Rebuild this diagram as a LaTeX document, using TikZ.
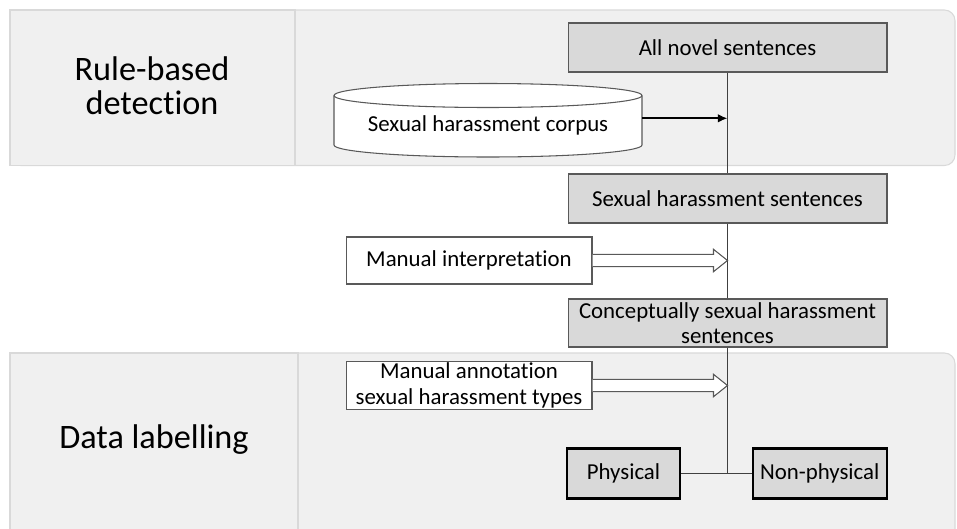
\documentclass[tikz,border=0pt]{standalone}
\usepackage{fontspec}
\setmainfont{Carlito}[Ligatures=NoCommon]
\usetikzlibrary{calc,arrows.meta}

\begin{document}
\begin{tikzpicture}[x=0.02cm,y=-0.02cm,
  band/.style={fill=gray!12,draw=gray!30,line width=0.6pt},
  stepbox/.style={draw=black!65,fill=gray!30,line width=0.6pt,inner sep=1pt,
    minimum width=6.38cm,font=\fontsize{13}{14.5}\selectfont,align=center},
  leafbox/.style={draw=black,fill=gray!30,line width=1.2pt,minimum height=1cm,
    font=\fontsize{13}{14.5}\selectfont},
  notebox/.style={draw=black!65,fill=white,line width=0.6pt,inner sep=1pt,
    minimum width=4.92cm,minimum height=0.94cm,font=\fontsize{13}{14.5}\selectfont,align=center},
  cyl/.style={draw=black!65,fill=white,line width=0.6pt},
  link/.style={draw=black!75,line width=0.6pt},
  hollow/.style={draw=black!65,fill=white,line width=0.6pt},
  title/.style={font=\fontsize{19.5}{19.5}\selectfont,align=center}]
\useasboundingbox (0,0) rectangle (957,528);
\begin{scope}
\clip (0,0) rectangle (957,528);
\draw[band,rounded corners=6pt] (10,10) rectangle (955,165.5);
\draw[band] (10,10) rectangle (295,165.5);
\draw[band,rounded corners=6pt] (10,353) rectangle (955,560);
\draw[band] (10,353) rectangle (298,560);
\end{scope}

\node[title] (rule) at (152,86) {Rule-based\\detection};
\node[title] (label) at (154,440) {Data labelling};

\draw[cyl] (334,95.5) -- (334,145) arc[start angle=180,end angle=0,x radius=154,y radius=12] -- (642,95.5);
\draw[cyl] (488,95.5) ellipse [x radius=154,y radius=12];
\node[minimum width=6.16cm,font=\fontsize{13}{14.5}\selectfont] (corpus) at (488,125) {Sexual harassment corpus};

\node[stepbox,minimum height=0.98cm] (all) at (727.5,47.5) {All novel sentences};
\node[stepbox,minimum height=0.98cm] (shs) at (727.5,198.5) {Sexual harassment sentences};
\node[stepbox,minimum height=0.96cm] (csh) at (727.5,323) {Conceptually sexual harassment\\sentences};
\node[notebox] (interp) at (469,260.5) {Manual interpretation};
\node[notebox] (annot) at (469,385.5) {Manual annotation\\sexual harassment types};
\node[leafbox,minimum width=2.26cm] (phys) at (623.5,473.5) {Physical};
\node[leafbox,minimum width=2.68cm] (nonphys) at (819.7,473.5) {Non-physical};

\coordinate (jA) at (727.5,118.3);
\coordinate (jB) at (727.5,260.5);
\coordinate (jC) at (727.5,385.5);
\coordinate (split) at (727.5,473.5);

\draw[link] (all) -- (shs);
\draw[link] (shs) -- (csh);
\draw[link] (csh) -- (split);
\draw[link] (phys) -- (nonphys);
\draw[-{Latex[length=5.5pt,width=5pt]},line width=1.2pt] (corpus.east |- jA) -- (jA);
\foreach \b/\j in {interp/jB,annot/jC}
  \draw[hollow] ($(\b.east)+(0,-6.2)$) -- ($(\j)+(-14,-6.2)$) -- ($(\j)+(-14,-11.2)$) -- (\j)
    -- ($(\j)+(-14,11.2)$) -- ($(\j)+(-14,6.2)$) -- ($(\b.east)+(0,6.2)$);
\end{tikzpicture}
\end{document}
